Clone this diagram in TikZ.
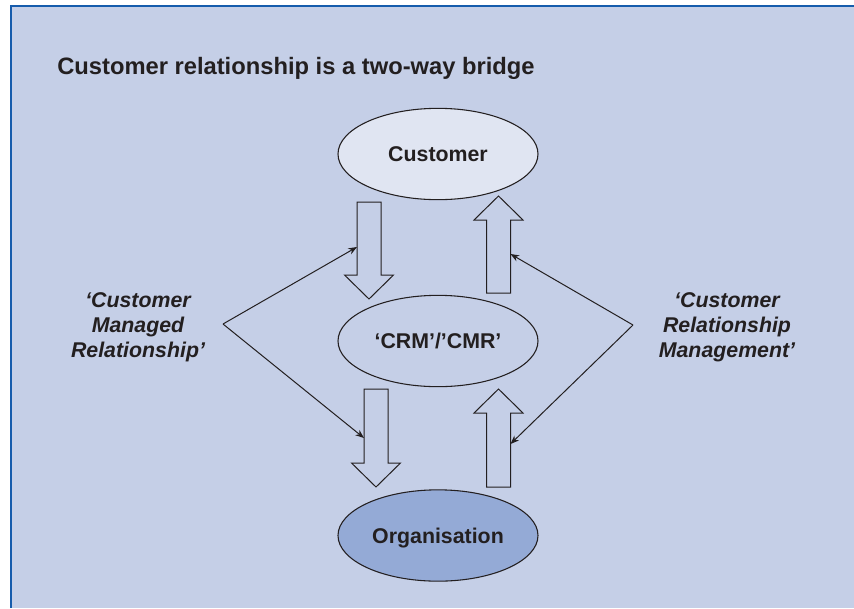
\documentclass[tikz,border=0pt]{standalone}
\usepackage{fontspec}
\setmainfont{Liberation Sans}
\usetikzlibrary{shapes.geometric, arrows.meta}

\definecolor{panel}{RGB}{197,207,231}
\definecolor{frameblue}{RGB}{22,92,172}
\definecolor{custfill}{RGB}{224,229,242}
\definecolor{orgfill}{RGB}{148,170,214}
\definecolor{ink}{RGB}{35,31,32}

% block arrows: centre x, start y, tip y
\newcommand{\blockdown}[3]{%
  \draw[block] ({#1-12},{#2}) -- ({#1+12},{#2}) -- ({#1+12},{#3-24}) -- ({#1+24.5},{#3-24})
    -- ({#1},{#3}) -- ({#1-24.5},{#3-24}) -- ({#1-12},{#3-24}) -- cycle;}
\newcommand{\blockup}[3]{%
  \draw[block] ({#1-12},{#2}) -- ({#1+12},{#2}) -- ({#1+12},{#3+24}) -- ({#1+24.5},{#3+24})
    -- ({#1},{#3}) -- ({#1-24.5},{#3+24}) -- ({#1-12},{#3+24}) -- cycle;}

\begin{document}
\begin{tikzpicture}[x=0.75pt, y=-0.75pt, >={Stealth[length=6.5pt, width=5pt]},
    oval/.style={ellipse, draw=ink, line width=0.8pt, minimum width=150pt, minimum height=68.5pt,
      inner sep=0pt, text height=11.5pt, text depth=0pt, text=ink,
      font=\bfseries\fontsize{16}{19}\selectfont},
    side/.style={align=center, text=ink, font=\bfseries\itshape\fontsize{16}{18.75}\selectfont},
    block/.style={draw=ink, line width=0.75pt},
    link/.style={->, draw=ink, line width=0.75pt}]
    \useasboundingbox (0,0) rectangle (854,608);

    % Nền và khung
    \fill[white] (0,0) rectangle (854,608);
    \fill[panel] (10.5,6) rectangle (854,608);
    \draw[frameblue, line width=1.5pt] (10.5,608) -- (10.5,6) -- (854,6);

    % Tiêu đề
    \node[anchor=base west, inner sep=0pt, text=ink, font=\bfseries\fontsize{17.8}{21}\selectfont]
        (title) at (57,74) {Customer relationship is a two-way bridge};

    % Ba hình elip
    \node[oval, fill=custfill] (cust) at (438,154) {Customer};
    \node[oval] (crm) at (438,341) {‘CRM’/’CMR’};
    \node[oval, fill=orgfill] (org) at (438,535.5) {Organisation};

    % Mũi tên khối
    \blockdown{369}{202}{299}
    \blockdown{376}{389}{487}
    \blockup{498.5}{293}{196}
    \blockup{498.5}{487}{389}

    % Nhãn hai bên
    \node[side] (cmr) at (138,327) {‘Customer\\Managed\\Relationship’};
    \node[side] (crmlab) at (727,327) {‘Customer\\Relationship\\Management’};

    % Đường nối có mũi tên
    \coordinate (lapex) at (223,324);
    \coordinate (rapex) at (633,325);
    \coordinate (lup) at (357,247);
    \coordinate (ldown) at (364,438);
    \coordinate (rup) at (510.5,254);
    \coordinate (rdown) at (510.5,444);
    \draw[link] (lapex) -- (lup);
    \draw[link] (lapex) -- (ldown);
    \draw[link] (rapex) -- (rup);
    \draw[link] (rapex) -- (rdown);

\end{tikzpicture}
\end{document}
